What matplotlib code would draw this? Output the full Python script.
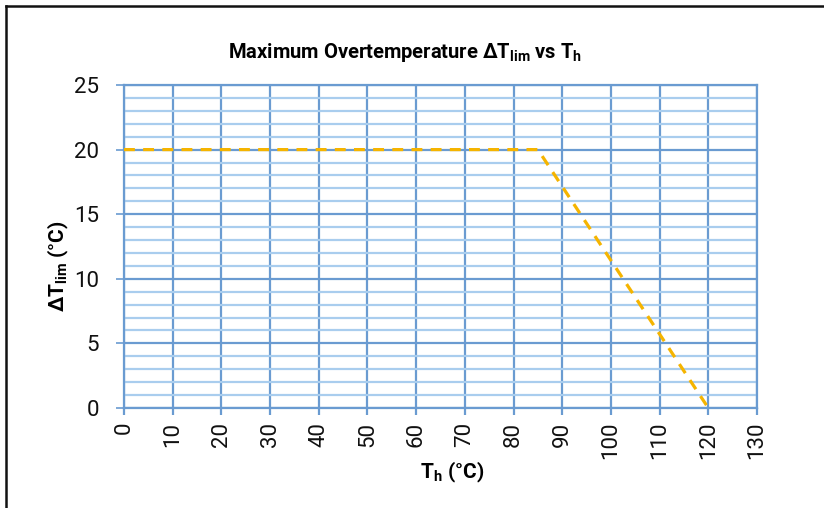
import matplotlib
matplotlib.use("Agg")
import matplotlib.pyplot as plt
from matplotlib.lines import Line2D
from matplotlib.ticker import MultipleLocator

# Data
th_values = [0, 85, 120]
dt_values = [20, 20, 0]
x_ticks = list(range(0, 131, 10))
y_ticks = list(range(0, 26, 5))
title_text = "Maximum Overtemperature ΔT$_{\\mathrm{lim}}$ vs T$_{\\mathrm{h}}$"
xlabel_text = "T$_{\\mathrm{h}}$ (°C)"
ylabel_text = "ΔT$_{\\mathrm{lim}}$ (°C)"

FONT = ['Roboto', 'DejaVu Sans']
plt.rcParams['font.family'] = FONT
plt.rcParams['mathtext.fontset'] = 'custom'
plt.rcParams['mathtext.rm'] = 'Roboto:bold'
plt.rcParams['mathtext.bf'] = 'Roboto:bold'
plt.rcParams['mathtext.it'] = 'Roboto:bold'

W, H = 824, 508
fig = plt.figure(figsize=(W / 100, H / 100), dpi=100)

major_c = '#6a9bd1'
minor_c = '#a9cdee'

ax = fig.add_axes([124 / W, 1 - 408 / H, (757 - 124) / W, (408 - 85) / H])
ax.plot(th_values, dt_values, color='#f5b400', lw=2.3, linestyle=(0, (3.4, 2.6)), zorder=5,
        solid_capstyle='butt', dash_capstyle='butt')
ax.set_xlim(0, 130)
ax.set_ylim(0, 25)
ax.set_xticks(x_ticks)
ax.set_yticks(y_ticks)
ax.yaxis.set_minor_locator(MultipleLocator(1))
ax.grid(which='major', color=major_c, lw=1.6, zorder=1)
ax.grid(which='minor', axis='y', color=minor_c, lw=1.6, zorder=0)
ax.set_axisbelow(True)
for s in ax.spines.values():
    s.set_color(major_c)
    s.set_linewidth(1.6)
ax.tick_params(axis='y', which='major', length=6, color=major_c, width=1.2, labelsize=16, pad=12)
ax.tick_params(axis='y', which='minor', length=0)
ax.tick_params(axis='x', which='major', length=5, color=major_c, width=1.6, labelsize=16, pad=5,
               labelrotation=90)
for lbl in ax.get_xticklabels() + ax.get_yticklabels():
    lbl.set_color('#111111')

fig.text(405 / W, 1 - 52 / H, title_text, ha='center', va='center', fontsize=14.5, fontweight='bold')
fig.text(452 / W, 1 - 472 / H, xlabel_text, ha='center', va='center', fontsize=15, fontweight='bold')
fig.text(58 / W, 1 - 266 / H, ylabel_text, ha='center', va='center', fontsize=15, fontweight='bold',
         rotation=90)

# outer frame (left and top edges visible)
fig.add_artist(Line2D([6 / W, 6 / W], [0, 1 - 6 / H], transform=fig.transFigure, color='#111111', lw=1.8))
fig.add_artist(Line2D([6 / W, 1], [1 - 6 / H, 1 - 6 / H], transform=fig.transFigure, color='#111111', lw=1.8))

fig.savefig('out.png', dpi=100)
